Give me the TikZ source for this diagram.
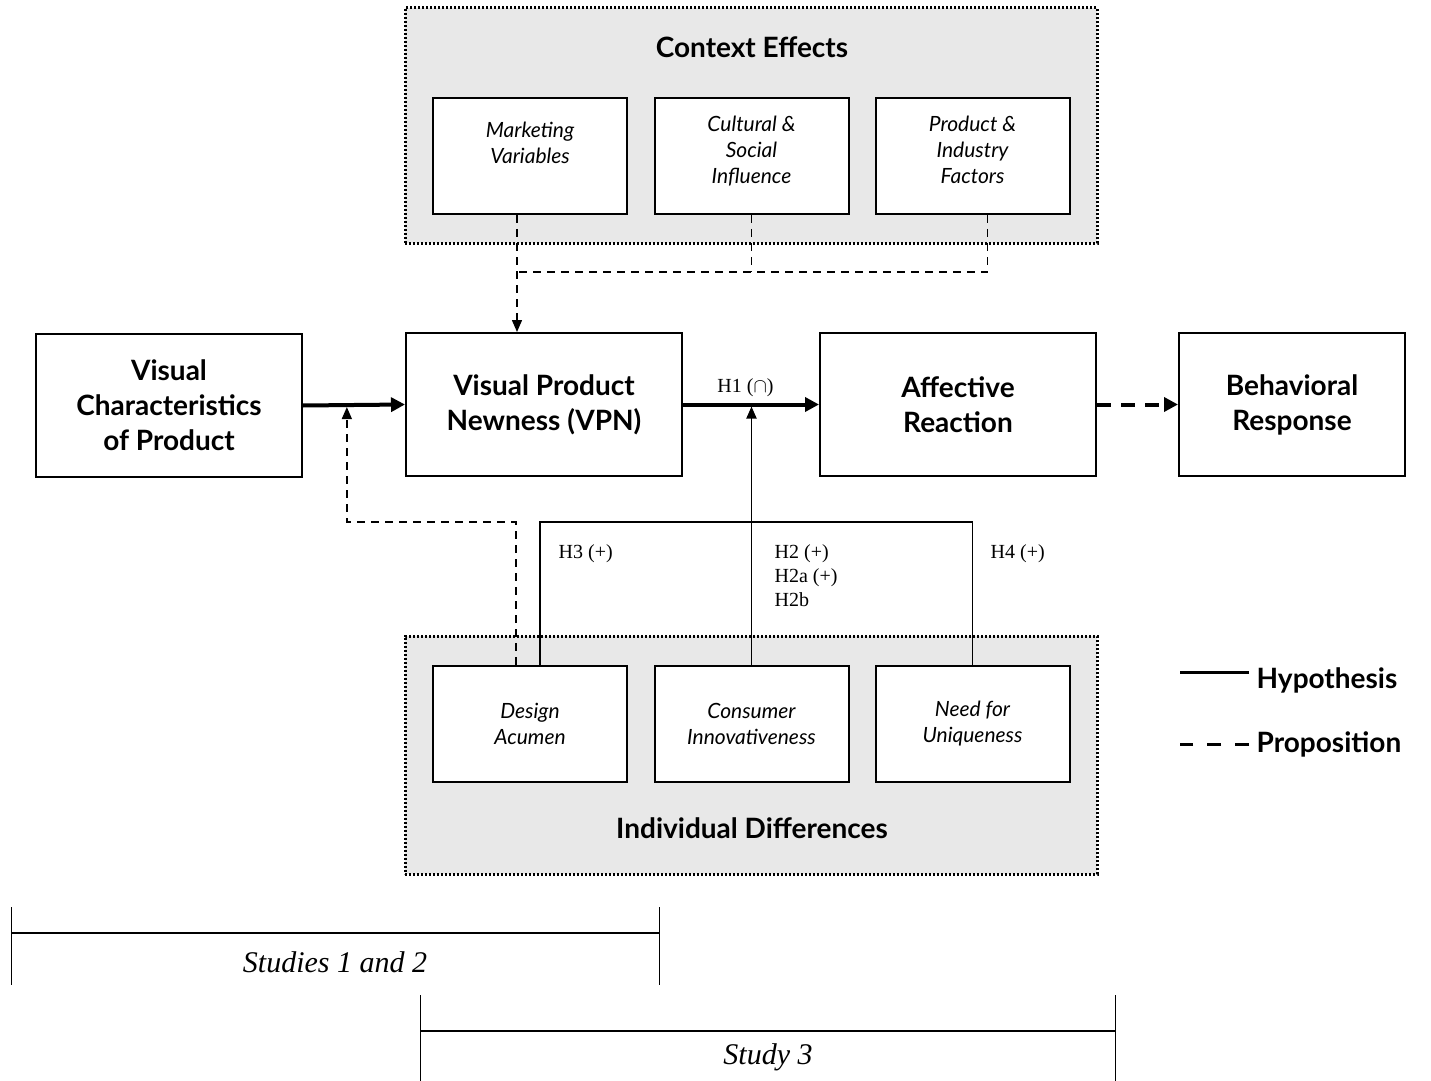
\documentclass[tikz,border=0pt]{standalone}
\usepackage{fontspec}
\setmainfont{Liberation Serif}
\setsansfont{Lato}
\usetikzlibrary{arrows.meta,positioning,calc}

\begin{document}
\begin{tikzpicture}
  [
  x=0.5pt, y=-0.5pt, line width=1pt, draw=black, font=\sffamily,
  >={Triangle[length=6pt,width=5pt]},
  mainbox/.style={rectangle, minimum height=71.5pt, minimum width=138pt, draw=black, fill=white, align=center, font=\sffamily\bfseries\fontsize{14}{17.5}\selectfont},
  factor/.style={rectangle, minimum height=58pt, minimum width=97pt, draw=black, fill=white, align=center, font=\sffamily\itshape\fontsize{10.5}{13}\selectfont},
  group/.style={rectangle, minimum width=346pt, draw=black, fill=gray!18, line width=1.5pt, dash pattern=on 1.1pt off 0.9pt},
  grouptitle/.style={font=\sffamily\bfseries\fontsize{14}{17}\selectfont},
  hyp/.style={line width=0.9pt},
  hypthick/.style={line width=2pt, >={Triangle[length=7pt,width=7pt]}},
  prop/.style={line width=0.75pt, dash pattern=on 4pt off 3pt},
  propthick/.style={line width=2pt, dash pattern=on 7pt off 5pt, >={Triangle[length=7pt,width=7pt]}},
  hlabel/.style={font=\rmfamily\fontsize{10}{12}\selectfont, align=left},
  legend/.style={font=\sffamily\bfseries\fontsize{14}{17}\selectfont},
  study/.style={font=\rmfamily\itshape\fontsize{15}{18}\selectfont}
  ]

\path[use as bounding box] (0,0) rectangle (1431,1081);

% groups
\node[group, minimum height=117.5pt] (ctx) at (751,125.5) {};
\node[grouptitle] (ctxt) at (752,47) {Context Effects};
\node[group, minimum height=119pt] (ind) at (751,755) {};
\node[grouptitle] (indt) at (752,828) {Individual Differences};

\node[factor] (mv) at (530,156) {Marketing\\Variables\\\mbox{}};
\node[factor] (cs) at (751.5,156) {Cultural \&\\Social\\Influence\\[-6.5pt]\mbox{}};
\node[factor] (pi) at (972.5,156) {Product \&\\Industry\\Factors\\[-6.5pt]\mbox{}};

\node[factor] (da) at (530,723.5) {Design\\Acumen};
\node[factor] (ci) at (751.5,723.5) {Consumer\\Innovativeness};
\node[factor] (nu) at (972.5,723.5) {Need for\\Uniqueness};

% main row
\node[mainbox, minimum width=133pt] (vc) at (169,405.5) {Visual\\Characteristics\\of Product};
\node[mainbox] (vpn) at (544,404.5) {Visual Product\\Newness (VPN)};
\node[mainbox] (ar) at (958,404.5) {Affective\\Reaction};
\node[mainbox, minimum width=113pt] (br) at (1292,404.5) {Behavioral\\Response};

\coordinate (j1) at ($(vc.east)!0.43!(vpn.west)$);
\coordinate (j2) at (ci.north |- vpn.east);
\coordinate (fork) at (751,522);
\coordinate (bus) at (751,272);

\draw[hypthick,->] (vc.east) -- (vpn.west);
\draw[hypthick,->] (vpn.east) -- (ar.west);
\draw[propthick,->] (ar.east) -- (br.west);
\node[hlabel, above=0pt of j2, xshift=-3pt] (h1) {H1 ($\cap$)};

% context effects
\draw[prop,->] ([xshift=-6.5pt]mv.south) -- ([xshift=-6.5pt]mv.south |- vpn.north);
\draw[prop] (cs.south) -- (cs.south |- bus);
\draw[prop] ([xshift=7.5pt]pi.south) |- ([xshift=-6.5pt]mv.south |- bus);

% individual differences
\draw[prop,->] ([xshift=-7pt]da.north) |- (j1 |- fork) -- ([yshift=-1pt]j1);
\draw[hyp] ([xshift=5pt]da.north) |- (nu.north |- fork) -- (nu.north);
\draw[hyp,->] (ci.north) -- ([yshift=-1pt]j2);

\node[hlabel, anchor=north west] (h3) at (551,537) {H3 (+)};
\node[hlabel, anchor=north west] (h2) at (767,537) {H2 (+)\\H2a (+)\\H2b};
\node[hlabel, anchor=north west] (h4) at (983,537) {H4 (+)};

% legend
\node[legend, anchor=west] (lhyp) at (1249,680) {Hypothesis};
\node[legend, anchor=west] (lprop) at (1249,744) {Proposition};
\draw[line width=1.5pt] ([yshift=4pt]lhyp.west) -- ++(-69,0);
\draw[line width=1.5pt, dash pattern=on 7pt off 7pt] (lprop.west) -- ++(-69,0);

% studies
\node[study] (s12) at (335,962) {Studies 1 and 2};
\draw[line width=0.5pt] (11,907) -- (11,985);
\draw[line width=0.5pt] (659,907) -- (659,985);
\draw[line width=1pt] (11,933) -- (659,933);
\node[study] (s3) at (768,1057) {Study 3};
\draw[line width=0.5pt] (420,995) -- (420,1081);
\draw[line width=0.5pt] (1115,995) -- (1115,1081);
\draw[line width=1pt] (420,1031) -- (1115,1031);
\end{tikzpicture}
\end{document}
